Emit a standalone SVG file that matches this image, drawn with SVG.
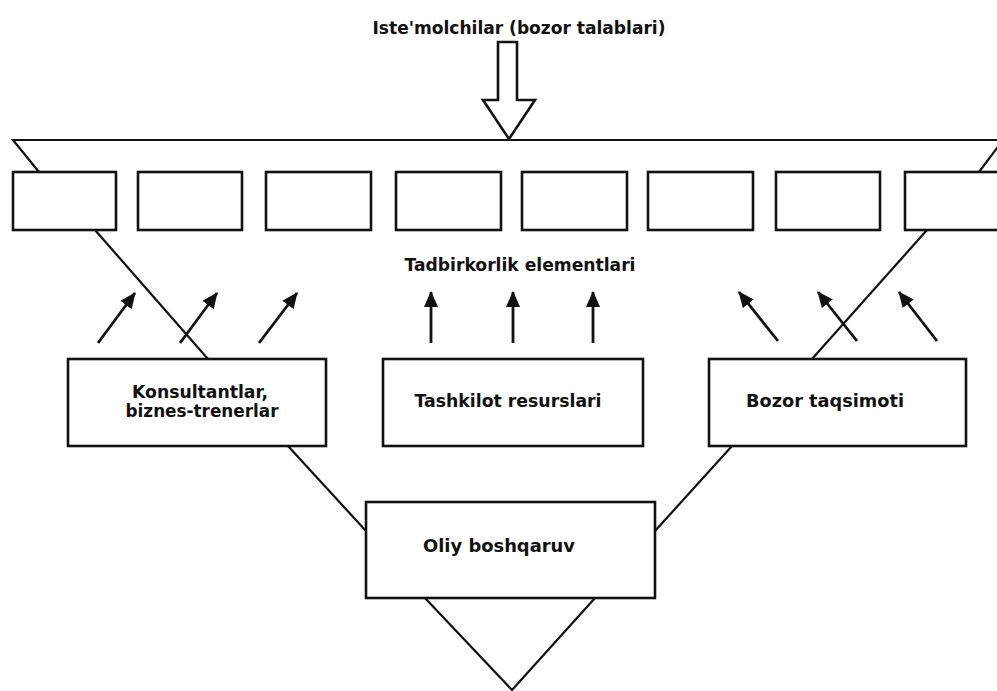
<svg xmlns="http://www.w3.org/2000/svg" width="997" height="691" viewBox="0 0 997 691">
  <style>
    .box { fill: #fff; stroke: #111; stroke-width: 2.6; }
    .ln { fill: none; stroke: #111; stroke-width: 2.2; }
    .arr { fill: none; stroke: #111; stroke-width: 2.8; marker-end: url(#head); }
    .lbl { font-family: "DejaVu Sans", "Liberation Sans", sans-serif; font-weight: bold; font-size: 17px; fill: #111; text-anchor: middle; }
  </style>
  <defs>
    <marker id="head" viewBox="0 0 16 14" refX="15" refY="7" markerWidth="16" markerHeight="14" markerUnits="userSpaceOnUse" orient="auto">
      <path d="M0,0 L16,7 L0,14 z" fill="#111"/>
    </marker>
  </defs>
  <rect width="997" height="691" fill="#fff"/>

  <!-- connectors: frame lines and arrows -->
  <g id="connectors">
    <polyline class="ln" points="39,172 13,140 1003,140 979,172"/>
    <line class="ln" x1="95" y1="230" x2="208" y2="359"/>
    <line class="ln" x1="927" y1="230" x2="812" y2="359"/>
    <line class="ln" x1="288" y1="446" x2="366" y2="531"/>
    <line class="ln" x1="732" y1="446" x2="655" y2="531"/>
    <polyline class="ln" points="425,598 512,690 595,598"/>
    <!-- consultant arrows -->
    <line class="arr" x1="98" y1="343" x2="135" y2="293"/>
    <line class="arr" x1="180" y1="343" x2="217" y2="293"/>
    <line class="arr" x1="259" y1="343" x2="297" y2="293"/>
    <!-- resource arrows -->
    <line class="arr" x1="431" y1="343" x2="431" y2="292"/>
    <line class="arr" x1="513" y1="343" x2="513" y2="292"/>
    <line class="arr" x1="593" y1="343" x2="593" y2="292"/>
    <!-- market arrows -->
    <line class="arr" x1="778" y1="341" x2="739" y2="292"/>
    <line class="arr" x1="857" y1="341" x2="818" y2="292"/>
    <line class="arr" x1="937" y1="341" x2="899" y2="292"/>
  </g>

  <g id="consumers">
    <text class="lbl" x="519" y="34" textLength="293" lengthAdjust="spacingAndGlyphs">Iste'molchilar (bozor talablari)</text>
    <polygon class="box" points="498,42 517,42 517,100 535,100 509,139 483,100 498,100"/>
  </g>

  <g id="elements">
    <rect class="box" x="13" y="172" width="103" height="58"/>
    <rect class="box" x="138" y="172" width="104" height="58"/>
    <rect class="box" x="266" y="172" width="105" height="58"/>
    <rect class="box" x="396" y="172" width="105" height="58"/>
    <rect class="box" x="522" y="172" width="105" height="58"/>
    <rect class="box" x="648" y="172" width="105" height="58"/>
    <rect class="box" x="776" y="172" width="104" height="58"/>
    <rect class="box" x="905" y="172" width="100" height="58"/>
    <text class="lbl" x="520" y="271" textLength="231" lengthAdjust="spacingAndGlyphs">Tadbirkorlik elementlari</text>
  </g>

  <g id="consultants">
    <rect class="box" x="68" y="359" width="258" height="87"/>
    <text class="lbl" x="200" y="398" textLength="136" lengthAdjust="spacingAndGlyphs">Konsultantlar,</text>
    <text class="lbl" x="202" y="417" textLength="153" lengthAdjust="spacingAndGlyphs">biznes-trenerlar</text>
  </g>

  <g id="resources">
    <rect class="box" x="383" y="359" width="260" height="87"/>
    <text class="lbl" x="508" y="407" textLength="187" lengthAdjust="spacingAndGlyphs">Tashkilot resurslari</text>
  </g>

  <g id="market">
    <rect class="box" x="709" y="359" width="257" height="87"/>
    <text class="lbl" x="825" y="407" textLength="158" lengthAdjust="spacingAndGlyphs">Bozor taqsimoti</text>
  </g>

  <g id="management">
    <rect class="box" x="366" y="502" width="289" height="96"/>
    <text class="lbl" x="499" y="552" textLength="152" lengthAdjust="spacingAndGlyphs">Oliy boshqaruv</text>
  </g>
</svg>
